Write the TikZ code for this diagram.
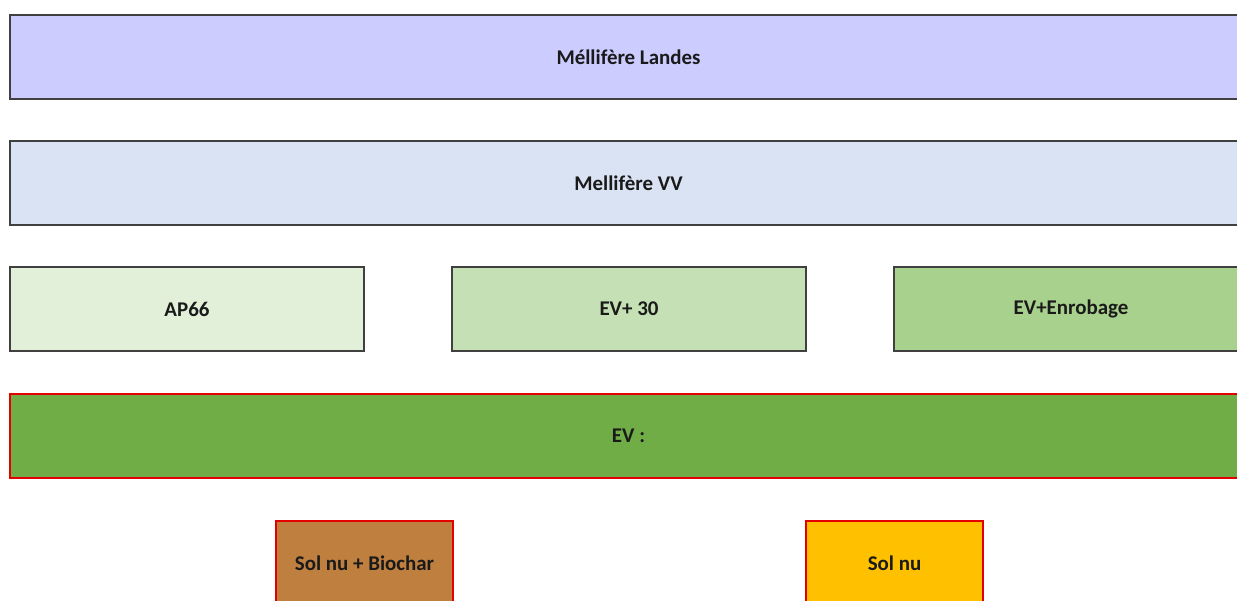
\documentclass[tikz,border=0pt]{standalone}
\usepackage{fontspec}
\setmainfont{Carlito}
\definecolor{cLandes}{HTML}{CCCCFF}
\definecolor{cVV}{HTML}{DAE3F3}
\definecolor{cAP}{HTML}{E2F0D9}
\definecolor{cEVt}{HTML}{C5E0B4}
\definecolor{cEnr}{HTML}{A9D18E}
\definecolor{cEV}{HTML}{70AD47}
\definecolor{cBio}{HTML}{BF7F3F}
\definecolor{cSol}{HTML}{FFC000}
\definecolor{cEdge}{HTML}{404040}
\definecolor{cTxt}{HTML}{1A1A1A}
\tikzset{
  boxbase/.style={rectangle, inner sep=0pt, line width=1.4bp, font=\bfseries\fontsize{21}{24}\selectfont, text=cTxt},
  greybox/.style={boxbase, draw=cEdge},
  redbox/.style={boxbase, draw=red!90!black},
}
\begin{document}
\begin{tikzpicture}[x=1bp,y=-1bp]
\useasboundingbox (0,0) rectangle (1237,601);
\clip (0,0) rectangle (1237,601);
\fill[white] (0,0) rectangle (1237,601);
\node[greybox, fill=cLandes, minimum width=1237bp, minimum height=84bp] (landes) at (628.5,57) {Méllifère Landes};
\node[greybox, fill=cVV, minimum width=1237bp, minimum height=84bp] (vv) at (628.5,183) {Mellifère VV};
\node[greybox, fill=cAP, minimum width=354bp, minimum height=84bp] (ap) at (187,309) {AP66};
\node[greybox, fill=cEVt, minimum width=354bp, minimum height=84bp] (evt) at (629,309) {EV+ 30};
\node[greybox, fill=cEnr, minimum width=354bp, minimum height=84bp] (enr) at (1071,309) {EV+Enrobage};
\node[redbox, fill=cEV, minimum width=1237bp, minimum height=84bp] (ev) at (628.5,436) {EV :};
\node[redbox, fill=cBio, minimum width=177bp, minimum height=84bp] (bio) at (364.5,563) {Sol nu + Biochar};
\node[redbox, fill=cSol, minimum width=177bp, minimum height=84bp] (sol) at (894.5,563) {Sol nu};
\end{tikzpicture}
\end{document}
